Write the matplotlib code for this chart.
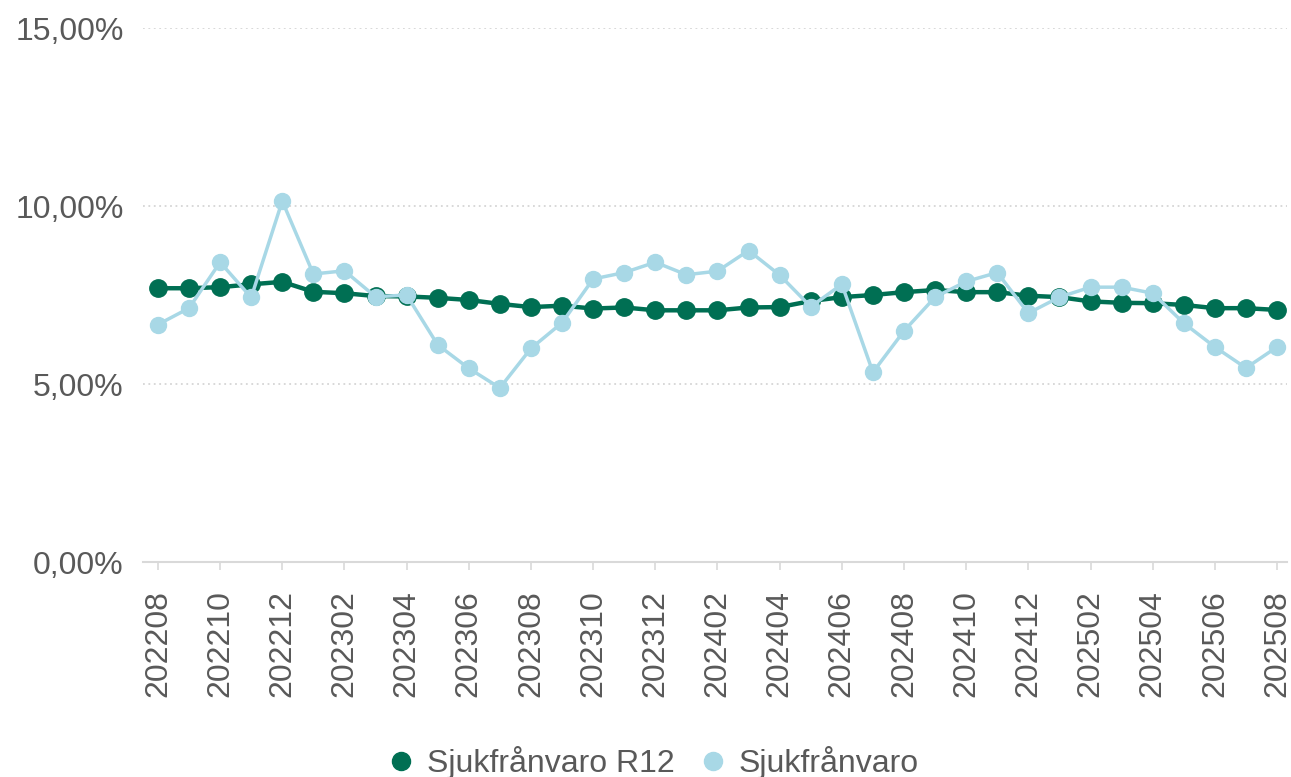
import matplotlib
matplotlib.use("Agg")
import matplotlib.pyplot as plt
from matplotlib.lines import Line2D
from matplotlib.ticker import FuncFormatter, FixedLocator

plt.rcParams['font.family'] = ['Liberation Sans', 'DejaVu Sans']

months = ['202208', '202209', '202210', '202211', '202212', '202301', '202302',
          '202303', '202304', '202305', '202306', '202307', '202308', '202309',
          '202310', '202311', '202312', '202401', '202402', '202403', '202404',
          '202405', '202406', '202407', '202408', '202409', '202410', '202411',
          '202412', '202501', '202502', '202503', '202504', '202505', '202506',
          '202507', '202508']

r12 = [7.69, 7.69, 7.72, 7.80, 7.87, 7.59, 7.55, 7.47, 7.46, 7.42, 7.36, 7.25,
       7.16, 7.20, 7.12, 7.15, 7.07, 7.07, 7.07, 7.15, 7.16, 7.33, 7.44, 7.50,
       7.58, 7.64, 7.58, 7.58, 7.48, 7.44, 7.32, 7.28, 7.27, 7.22, 7.13, 7.13,
       7.08]

monthly = [6.67, 7.13, 8.42, 7.43, 10.14, 8.09, 8.18, 7.45, 7.50, 6.10, 5.44,
           4.89, 6.00, 6.72, 7.95, 8.13, 8.42, 8.07, 8.17, 8.75, 8.06, 7.17,
           7.80, 5.33, 6.49, 7.44, 7.88, 8.13, 6.99, 7.44, 7.72, 7.72, 7.55,
           6.71, 6.04, 5.45, 6.04]

dark = '#006f53'
light = '#a8d8e6'
grey = '#595959'

fig = plt.figure(figsize=(12.91, 7.77), dpi=100)
ax = fig.add_axes([143 / 1291, 1 - 562 / 777, (1287 - 143) / 1291, 534 / 777])

x = list(range(len(months)))
ax.plot(x, r12, color=dark, lw=3.2, marker='o', ms=12.5, zorder=3, clip_on=False)
ax.plot(x, monthly, color=light, lw=2.5, marker='o', ms=11.5, zorder=4, clip_on=False)

ax.set_xlim(-0.48, 36.32)
ax.set_ylim(0, 15)
ax.set_yticks([0, 5, 10, 15])
ax.yaxis.set_major_formatter(FuncFormatter(lambda v, p: f"{v:.2f}".replace('.', ',') + '%'))
ax.xaxis.set_major_locator(FixedLocator(x[::2]))
ax.set_xticklabels(months[::2], rotation=90)

for s in ['top', 'right', 'left']:
    ax.spines[s].set_visible(False)
ax.spines['bottom'].set_color('#d9d9d9')
ax.spines['bottom'].set_linewidth(1.5)

ax.grid(axis='y', color='#d6d6d6', linestyle=(0, (1, 2)), lw=1.3)
ax.set_axisbelow(True)
ax.tick_params(axis='y', length=0, pad=14, labelsize=23, labelcolor=grey)
ax.tick_params(axis='x', length=6, width=1.2, color='#d9d9d9', pad=14,
               labelsize=23, labelcolor=grey)

handles = [Line2D([], [], color=dark, marker='o', ls='None', ms=13),
           Line2D([], [], color=light, marker='o', ls='None', ms=13)]
fig.legend(handles, ['Sjukfrånvaro R12', 'Sjukfrånvaro'], loc='lower center',
           bbox_to_anchor=(0.505, -0.04), ncol=2, frameon=False, fontsize=23,
           labelcolor=grey, handletextpad=0.3, columnspacing=0.7,
           handlelength=1.0)

fig.savefig('out.png', dpi=100)
